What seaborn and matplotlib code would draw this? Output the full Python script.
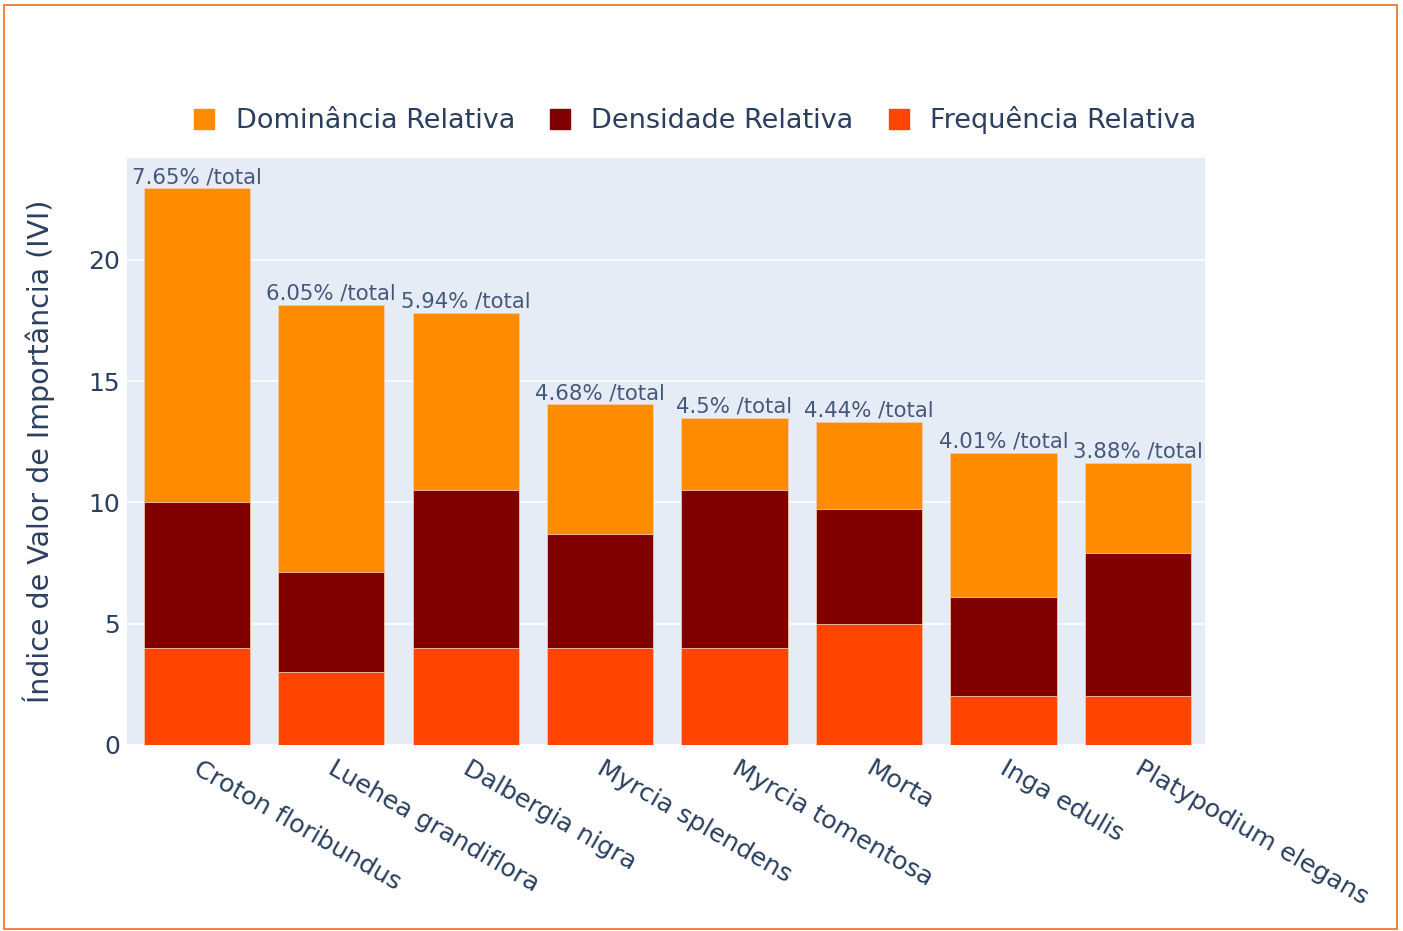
import numpy as np
import pandas as pd
import seaborn as sns
import matplotlib
matplotlib.use("Agg")
import matplotlib.pyplot as plt
import matplotlib.transforms as mtransforms
from matplotlib.lines import Line2D
from matplotlib.patches import Rectangle

# dados
especies = ["Croton floribundus", "Luehea grandiflora", "Dalbergia nigra",
            "Myrcia splendens", "Myrcia tomentosa", "Morta", "Inga edulis",
            "Platypodium elegans"]
frequencia = [4.0, 3.0, 4.0, 4.0, 4.0, 5.0, 2.0, 2.0]
densidade = [6.0, 4.13, 6.52, 4.70, 6.52, 4.73, 4.10, 5.92]
dominancia = [12.95, 11.02, 7.30, 5.34, 2.98, 3.59, 5.93, 3.72]
rotulos = ["7.65% /total", "6.05% /total", "5.94% /total", "4.68% /total",
           "4.5% /total", "4.44% /total", "4.01% /total", "3.88% /total"]

cor_dom = "#FF8C00"
cor_den = "#800000"
cor_freq = "#FF4500"
cor_texto = "#2a3f5f"

df = pd.DataFrame({"especie": especies, "freq": frequencia,
                   "dens": densidade, "dom": dominancia})
df["nivel2"] = df["freq"] + df["dens"]
df["total"] = df["nivel2"] + df["dom"]

sns.set_style("white")
plt.rcParams["font.family"] = ["DejaVu Sans"]

fig = plt.figure(figsize=(14.03, 9.31), dpi=100)
ax = fig.add_axes([0.0905, 0.1998, 0.7684, 0.6305])
ax.set_facecolor("#e5ecf6")

# barras empilhadas: total -> freq+dens -> freq
for col, cor in [("total", cor_dom), ("nivel2", cor_den), ("freq", cor_freq)]:
    sns.barplot(data=df, x="especie", y=col, color=cor, width=0.79,
                edgecolor="#f3c9a8", linewidth=0.6, saturation=1, ax=ax, zorder=3)

for i, (tot, txt) in enumerate(zip(df["total"], rotulos)):
    ax.text(i, tot + 0.05, txt, ha="center", va="bottom", fontsize=15.3,
            color="#46587a", zorder=4)

ax.set_xlim(-0.52, 7.5)
ax.set_ylim(0, 24.2)
ax.set_yticks([0, 5, 10, 15, 20])
ax.yaxis.grid(True, color="white", linewidth=1.2, zorder=0)
ax.set_axisbelow(True)
for s in ax.spines.values():
    s.set_visible(False)
ax.tick_params(axis="y", labelsize=18, colors=cor_texto, length=0, pad=5)
ax.tick_params(axis="x", length=0, pad=8)
ax.set_xticks(range(len(especies)))
ax.set_xticklabels(especies, rotation=-30, ha="left", va="top",
                   rotation_mode="anchor", fontsize=18.3, color=cor_texto)
desloc = mtransforms.ScaledTranslation(5 / 100, 0, fig.dpi_scale_trans)
for lab in ax.get_xticklabels():
    lab.set_transform(lab.get_transform() + desloc)
ax.set_xlabel("")
ax.set_ylabel("Índice de Valor de Importância (IVI)", fontsize=20.5,
              color=cor_texto, labelpad=24)

handles = [
    Line2D([], [], marker="s", linestyle="none", markersize=14, color=cor_dom),
    Line2D([], [], marker="s", linestyle="none", markersize=14, color=cor_den),
    Line2D([], [], marker="s", linestyle="none", markersize=14, color=cor_freq),
]
fig.legend(handles, ["Dominância Relativa", "Densidade Relativa", "Frequência Relativa"],
           loc="center right", bbox_to_anchor=(0.870, 0.871), ncol=3, frameon=False,
           fontsize=19.5, labelcolor=cor_texto, handletextpad=0.65,
           columnspacing=1.17, handlelength=1.0)

# moldura laranja
fig.patches.append(Rectangle((0.003, 0.002), 0.993, 0.993, transform=fig.transFigure,
                             fill=False, edgecolor="#f07020", linewidth=1.2))

fig.savefig("out.png", dpi=100, facecolor="white")
